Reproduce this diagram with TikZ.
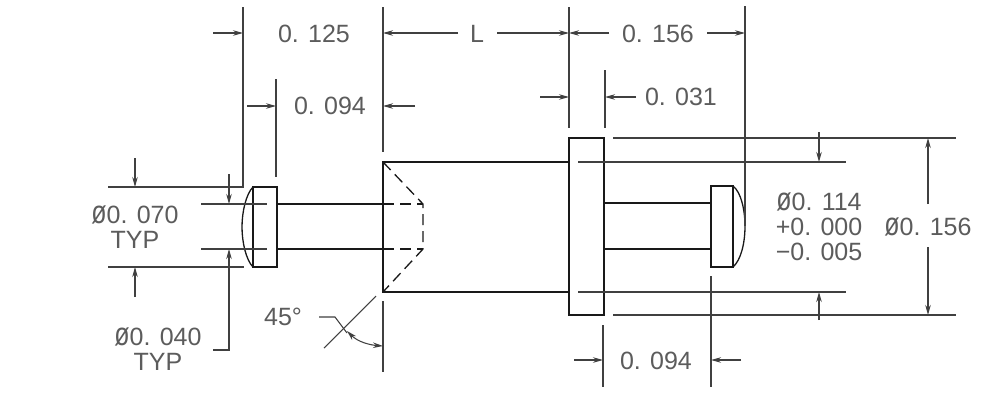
\documentclass[tikz,border=0pt]{standalone}
\usepackage{fontspec}
\setmainfont{Liberation Sans}
\usetikzlibrary{arrows.meta}
\definecolor{lbl}{gray}{0.36}
\newcommand{\dia}{\raisebox{0pt}{\scalebox{1}[1.3]{ø}}}
\tikzset{
  x=1pt,y=-1pt,
  part/.style={draw=black!90,line width=1.3pt,line join=miter},
  hidden/.style={part,dash pattern=on 11pt off 6pt},
  dimline/.style={draw=black!75,line width=1.05pt},
  dimarrow/.style={dimline,-{Stealth[length=10pt,width=5.5pt]}},
  dimtwo/.style={dimline,{Stealth[length=10pt,width=5.5pt]}-{Stealth[length=10pt,width=5.5pt]}},
  lab/.style={inner sep=0pt,text=lbl,font=\fontsize{25}{25}\selectfont,align=center}
}
\begin{document}
\begin{tikzpicture}
\useasboundingbox[fill=white] (0,0) rectangle (1000,400);
% part outline
\draw[part] (253,187) rectangle (277,267);
\draw[part] (253,187) .. controls (246,194) and (242,212) .. (242,227) .. controls (242,242) and (246,260) .. (253,267);
\draw[part] (277,204) -- (383,204);
\draw[part] (277,249) -- (383,249);
\draw[hidden] (383,204) -- (423,204);
\draw[hidden] (383,249) -- (423,249);
\draw[hidden] (383,162) -- (423,204) -- (423,249) -- (383,292);
\draw[part] (569,162) -- (383,162) -- (383,292) -- (569,292);
\draw[part] (569,138) rectangle (604,315);
\draw[part] (604,203) -- (711,203);
\draw[part] (604,249) -- (711,249);
\draw[part] (711,186) rectangle (733,267);
\draw[part] (733,186) .. controls (741,192) and (745,210) .. (745,226) .. controls (745,243) and (741,260) .. (733,267);
% extension lines, vertical
\draw[dimline] (243,7) -- (243,187);
\draw[dimline] (276,79) -- (276,177);
\draw[dimline] (383,7) -- (383,152);
\draw[dimline] (383,301) -- (383,372);
\draw[dimline] (569,7) -- (569,128);
\draw[dimline] (605,70) -- (605,128);
\draw[dimline] (745,6) -- (745,226);
\draw[dimline] (603,325) -- (603,387);
\draw[dimline] (711,276) -- (711,387);
% extension lines, horizontal
\draw[dimline] (108,187) -- (244,187);
\draw[dimline] (108,267) -- (244,267);
\draw[dimline] (201,204) -- (267,204);
\draw[dimline] (201,249) -- (267,249);
\draw[dimline] (578,162) -- (846,162);
\draw[dimline] (578,292) -- (846,292);
\draw[dimline] (613,138) -- (956,138);
\draw[dimline] (613,315) -- (956,315);
% top dimensions
\draw[dimarrow] (213,33) -- (243,33);
\draw[dimarrow] (458,33) -- (383,33);
\draw[dimarrow] (497,33) -- (569,33);
\draw[dimarrow] (609,33) -- (569,33);
\draw[dimarrow] (707,33) -- (745,33);
\draw[dimarrow] (247,106) -- (276,106);
\draw[dimarrow] (415,106) -- (383,106);
\draw[dimarrow] (540,97) -- (569,97);
\draw[dimarrow] (636,97) -- (605,97);
% left dimensions
\draw[dimarrow] (135,158) -- (135,187);
\draw[dimarrow] (135,297) -- (135,267);
\draw[dimarrow] (229,174) -- (229,204);
\draw[dimarrow] (213,350) -- (229,350) -- (229,249);
% 45 degree
\draw[dimline] (324,348) -- (376,296);
\draw[dimline] (319,317) -- (335,317) -- (347,333);
\draw[dimtwo] (347,331) .. controls (358,342) and (370,345) .. (383,346);
% bottom and right dimensions
\draw[dimarrow] (574,360) -- (603,360);
\draw[dimarrow] (741,360) -- (711,360);
\draw[dimarrow] (819,132) -- (819,162);
\draw[dimarrow] (819,320) -- (819,292);
\draw[dimarrow] (928,204) -- (928,138);
\draw[dimarrow] (928,247) -- (928,315);
% labels
\node[lab] (a) at (314,34) {0. 125};
\node[lab] (b) at (477,34) {L};
\node[lab] (c) at (658,34) {0. 156};
\node[lab] (d) at (330,106) {0. 094};
\node[lab] (e) at (681,97) {0. 031};
\node[lab] (f) at (135,227) {\dia0. 070\\TYP};
\node[lab] (g) at (158,349) {\dia0. 040\\TYP};
\node[lab] (h) at (283,317) {45°};
\node[lab] (i) at (819,227) {\dia0. 114\\+0. 000\\−0. 005};
\node[lab] (j) at (928,227) {\dia0. 156};
\node[lab] (k) at (656,361) {0. 094};
\end{tikzpicture}
\end{document}
